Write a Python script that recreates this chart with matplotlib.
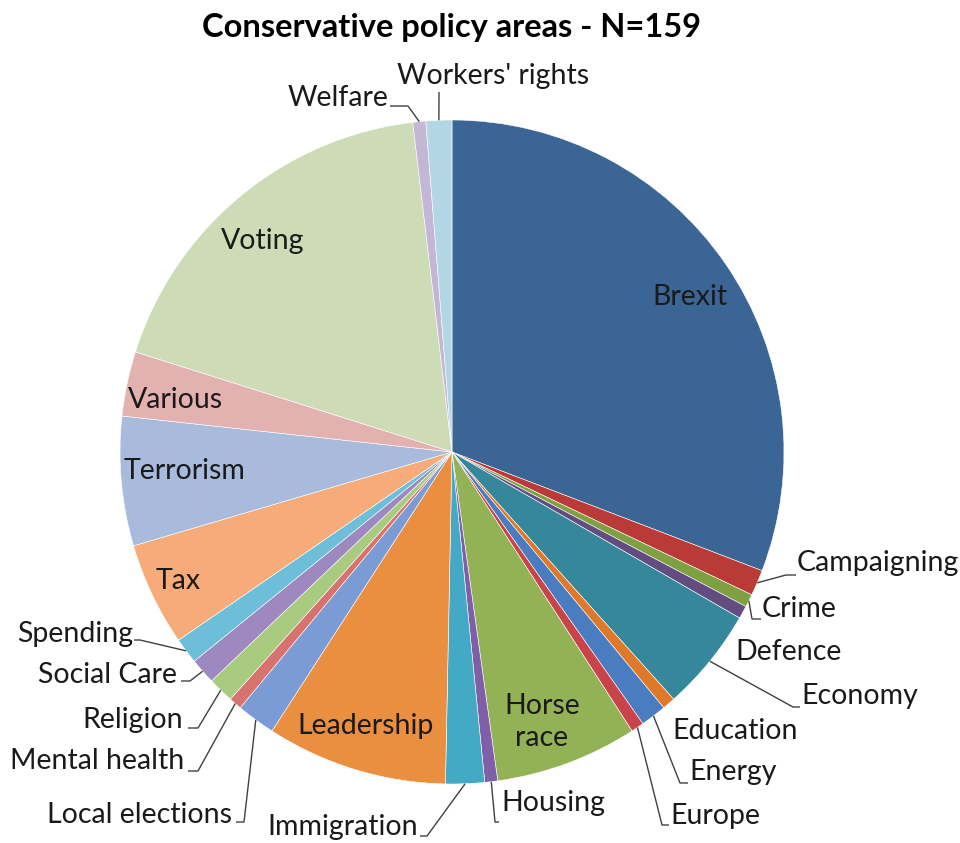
import matplotlib
matplotlib.use("Agg")
import matplotlib.pyplot as plt
import numpy as np

categories = ["Brexit", "Campaigning", "Crime", "Defence", "Economy", "Education",
              "Energy", "Europe", "Horse race", "Housing", "Immigration", "Leadership",
              "Local elections", "Mental health", "Religion", "Social Care", "Spending",
              "Tax", "Terrorism", "Various", "Voting", "Welfare", "Workers' rights"]
counts = [49, 2, 1, 1, 8, 1, 2, 1, 11, 1, 3, 14, 3, 1, 2, 2, 2, 8, 10, 5, 29, 1, 2]
colors = ["#3B6594", "#B93A37", "#7EA040", "#634C80", "#35879B", "#E0782A",
          "#4A7CC0", "#C9444A", "#93B155", "#7F5FA8", "#44A9C5", "#EA8E3F",
          "#7A9BD3", "#D7726E", "#A9CB80", "#9D88C0", "#6DBFD9", "#F7AB78",
          "#A9BBDD", "#E2B1B0", "#CEDBB7", "#C3B7D5", "#B3D6E4"]
title = "Conservative policy areas - N=159"

plt.rcParams['font.family'] = ['Lato', 'DejaVu Sans']

W, H = 960, 843
CX, CY, R = 452, 452, 332
fig = plt.figure(figsize=(W / 100, H / 100), dpi=100)
ax = fig.add_axes([0, 0, 1, 1])


def P(x, y):
    return ((x - CX) / R, (CY - y) / R)


wedges, _ = ax.pie(counts, colors=colors, startangle=90, counterclock=False,
                   radius=1.0, center=(0, 0), frame=True,
                   wedgeprops=dict(edgecolor="white", linewidth=0.4))
ax.set_xlim(-CX / R, (W - CX) / R)
ax.set_ylim(-(H - CY) / R, CY / R)
ax.axis("off")

FS = 20.5
TC = "#1a1a1a"
LC = "#404040"

# inside labels
inside = {
    "Brexit": (690, 297),
    "Voting": (263, 241),
    "Various": (175, 400),
    "Terrorism": (185, 471),
    "Tax": (178, 581),
    "Leadership": (366, 726),
    "Horse race": (542, 722),
}
for name, (x, y) in inside.items():
    label = "Horse\nrace" if name == "Horse race" else name
    ax.text(*P(x, y), label, ha="center", va="center", fontsize=FS, color=TC,
            linespacing=1.3)

# outside labels: text anchor px, ha, elbow points px
outside = {
    "Campaigning": ((797, 563), "left", [(786, 575), (796, 575)]),
    "Crime": ((762, 609), "left", [(752, 619), (761, 619)]),
    "Defence": ((735, 652), "left", None),
    "Economy": ((801, 696), "left", [(793, 707), (800, 707)]),
    "Education": ((672, 731), "left", None),
    "Energy": ((689, 772), "left", [(680, 783), (688, 783)]),
    "Europe": ((670, 816), "left", [(662, 825), (669, 825)]),
    "Housing": ((501, 803), "left", [(495, 822), (499, 822)]),
    "Immigration": ((418, 827), "right", [(427, 836), (420, 836)]),
    "Local elections": ((232, 815), "right", [(244, 822), (236, 822)]),
    "Mental health": ((184, 761), "right", [(198, 771), (188, 771)]),
    "Religion": ((183, 720), "right", [(198, 728), (188, 728)]),
    "Social Care": ((177, 675), "right", [(190, 681), (181, 681)]),
    "Spending": ((133, 634), "right", [(140, 640), (134, 640)]),
    "Welfare": ((388, 98), "right", [(408, 106), (390, 106)]),
    "Workers' rights": ((397, 76), "left", [(439, 92)]),
}
for name, ((x, y), ha, pts) in outside.items():
    i = categories.index(name)
    ax.text(*P(x, y), name, ha=ha, va="center", fontsize=FS, color=TC)
    if pts:
        w = wedges[i]
        mid = np.deg2rad((w.theta1 + w.theta2) / 2)
        ax_pt = (np.cos(mid) * 1.0, np.sin(mid) * 1.0)
        xs = [ax_pt[0]] + [P(px, py)[0] for px, py in pts]
        ys = [ax_pt[1]] + [P(px, py)[1] for px, py in pts]
        ax.plot(xs, ys, color=LC, linewidth=1.0, solid_capstyle="butt")

ax.text(*P(452, 28), title, ha="center", va="center", fontsize=23.5,
        fontweight="bold", color="#000000")

fig.savefig("out.png", dpi=100)
